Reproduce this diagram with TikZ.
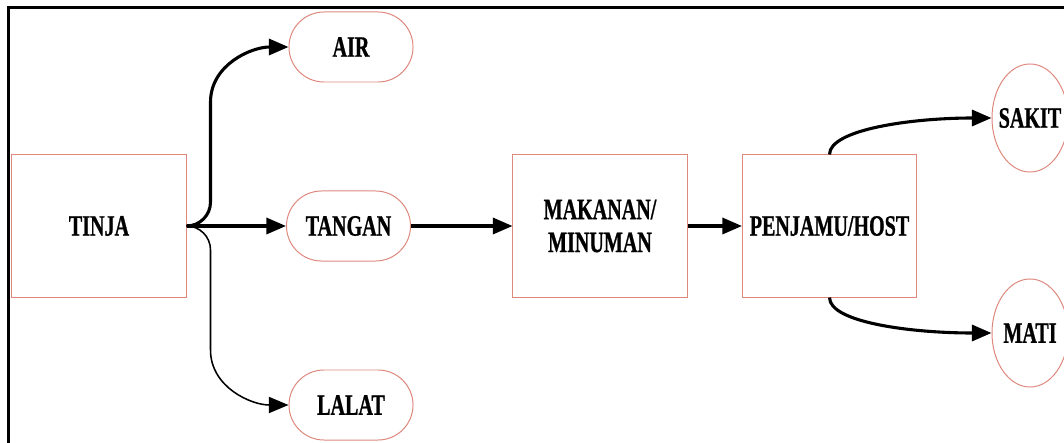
\documentclass[tikz,border=0pt]{standalone}
\usepackage{fontspec}
\usetikzlibrary{arrows.meta,shapes.geometric}
\newfontfamily\diagfont[FakeStretch=0.68, BoldFeatures={FakeBold=0.8}]{Liberation Serif}
\definecolor{boxred}{RGB}{222,135,124}

\begin{document}
\begin{tikzpicture}[x=0.025cm,y=0.025cm]
\tikzstyle{every node}=[font=\diagfont\bfseries\fontsize{21}{23.4}\selectfont, align=center, draw=boxred, line width=0.7pt];
\tikzstyle{kotak}=[rectangle, minimum width=4.35cm, minimum height=3.55cm];
\tikzstyle{bulat}=[rectangle, rounded corners=0.875cm, minimum width=3.1cm, minimum height=1.75cm];
\tikzstyle{elips}=[ellipse, minimum width=1.9cm, minimum height=2.7cm, inner sep=0pt];
\tikzstyle{panah}=[line width=2.2pt, -{Triangle[length=14pt,width=11.5pt]}];
\useasboundingbox (0,0) rectangle (1064,442);
\draw[line width=2.1pt] (8.5,-5) -- (8.5,434.5) -- (1070,434.5);
\path (99,216) node[kotak] (tinja) {TINJA};
\path (351,395) node[bulat] (air) {AIR};
\path (348.5,216) node[bulat] (tangan) {TANGAN};
\path (351,37) node[bulat] (lalat) {LALAT};
\path (600,216) node[kotak] (makanan) {MAKANAN/\\MINUMAN};
\path (829.5,216) node[kotak] (penjamu) {PENJAMU/HOST};
\path (1030,324) node[elips] (sakit) {\makebox[0pt]{SAKIT}};
\path (1030,109) node[elips] (mati) {\makebox[0pt]{MATI}};
\draw[panah] (tinja.east) to[out=0,in=-90] ++(24,24) -- ++(0,100) to[out=90,in=180] (air.west);
\draw[panah] (tinja.east) -- (tangan.west);
\draw[panah, line width=1.1pt] (tinja.east) to[out=0,in=90] ++(24,-24) -- ++(0,-100) to[out=-90,in=180] (lalat.west);
\draw[panah] (tangan.east) -- (makanan.west);
\draw[panah] (makanan.east) -- (penjamu.west);
\draw[panah] (penjamu.north) .. controls +(0,25) and +(-80,0) .. (sakit.west);
\draw[panah] (penjamu.south) .. controls +(0,-25) and +(-80,0) .. (mati.west);
\end{tikzpicture}
\end{document}
